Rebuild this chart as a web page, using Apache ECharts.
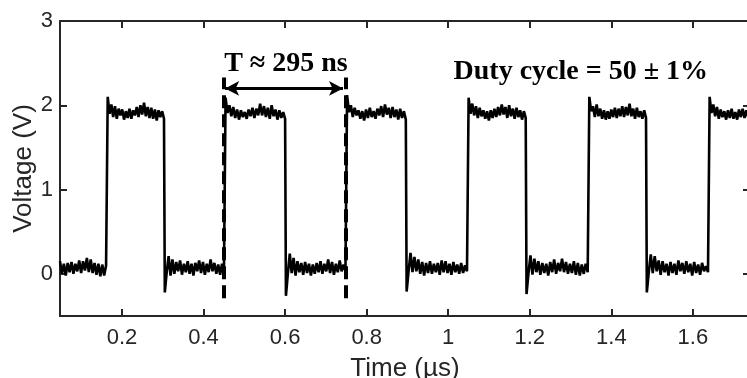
<!DOCTYPE html>
<html>
<head>
<meta charset="utf-8">
<script src="https://cdn.jsdelivr.net/npm/echarts@6/dist/echarts.min.js"></script>
<style>
  html, body { margin: 0; padding: 0; background: #fff; }
  #chart { width: 747px; height: 378px; }
</style>
</head>
<body>
<div id="chart"></div>
<script>
// edge times (µs)
const riseTimes = [0.161, 0.450, 0.748, 1.046, 1.342, 1.637];
const fallTimes = [0.303, 0.600, 0.896, 1.190, 1.485];
const startTime = 0.048;
const endTime = 1.74;

// voltage readings along each plateau (V), evenly sampled
const lowLevels = [
  [0.15, 0.00, 0.12, -0.02, 0.13, 0.02, 0.14, 0.00, 0.12, 0.03, 0.16, 0.01, 0.15, 0.04, 0.19, 0.02, 0.17, 0.01, 0.13, -0.01, 0.12, -0.03, 0.11, -0.02, 0.10],
  [-0.22, 0.02, 0.21, -0.02, 0.17, 0.00, 0.14, 0.03, 0.16, -0.01, 0.12, 0.02, 0.15, 0.00, 0.12, -0.02, 0.13, 0.03, 0.16, 0.01, 0.14, -0.01, 0.12, 0.02, 0.17, 0.03, 0.13, 0.00, 0.11, -0.01, 0.12, 0.02],
  [-0.26, 0.00, 0.24, 0.01, 0.19, -0.02, 0.15, 0.02, 0.13, -0.01, 0.14, 0.01, 0.12, -0.02, 0.11, 0.00, 0.13, 0.02, 0.15, 0.00, 0.12, 0.03, 0.17, 0.01, 0.14, -0.01, 0.12, 0.02, 0.16, 0.03, 0.11, 0.04],
  [-0.21, 0.03, 0.25, 0.02, 0.20, 0.03, 0.17, 0.00, 0.14, -0.02, 0.13, 0.01, 0.15, 0.00, 0.12, 0.02, 0.13, -0.01, 0.16, 0.02, 0.15, 0.01, 0.12, -0.01, 0.14, 0.02, 0.11, 0.00, 0.13, 0.01, 0.10, 0.03],
  [-0.24, 0.01, 0.22, -0.01, 0.18, 0.02, 0.15, -0.01, 0.13, 0.01, 0.12, -0.02, 0.14, 0.02, 0.17, 0.00, 0.13, 0.03, 0.18, 0.02, 0.14, 0.00, 0.12, 0.01, 0.15, -0.01, 0.13, -0.02, 0.11, 0.00, 0.12, 0.02],
  [-0.22, 0.02, 0.23, 0.01, 0.21, 0.03, 0.16, -0.01, 0.15, 0.02, 0.12, -0.02, 0.14, 0.01, 0.12, -0.01, 0.16, 0.03, 0.13, 0.00, 0.15, 0.02, 0.12, -0.02, 0.14, 0.01, 0.11, -0.01, 0.13, 0.03, 0.09, 0.02]
];
const highLevels = [
  [2.10, 1.90, 2.01, 1.86, 1.99, 1.84, 1.96, 1.88, 1.95, 1.83, 1.93, 1.85, 1.96, 1.84, 1.94, 1.88, 1.98, 1.86, 2.00, 1.89, 2.03, 1.87, 1.98, 1.85, 1.97, 1.84, 1.95, 1.82, 1.94, 1.86, 1.93, 1.84],
  [2.09, 1.91, 2.00, 1.87, 1.98, 1.85, 1.95, 1.83, 1.94, 1.86, 1.92, 1.84, 1.95, 1.87, 1.97, 1.85, 1.96, 1.88, 2.02, 1.88, 1.99, 1.86, 1.97, 1.84, 2.00, 1.87, 1.95, 1.83, 1.94, 1.85, 1.92, 1.84],
  [2.12, 1.92, 2.00, 1.86, 1.97, 1.88, 1.94, 1.84, 1.93, 1.82, 1.95, 1.85, 1.97, 1.86, 1.93, 1.84, 1.96, 1.88, 1.99, 1.86, 2.01, 1.89, 1.97, 1.85, 1.98, 1.86, 1.95, 1.83, 1.96, 1.85, 1.93, 1.83],
  [2.09, 1.90, 2.02, 1.88, 1.99, 1.85, 1.97, 1.87, 1.94, 1.84, 1.93, 1.82, 1.94, 1.85, 1.96, 1.86, 1.98, 1.88, 2.01, 1.89, 1.98, 1.85, 2.00, 1.87, 1.96, 1.84, 1.97, 1.86, 1.94, 1.83, 1.93, 1.85],
  [2.10, 1.93, 1.99, 1.86, 2.01, 1.87, 1.96, 1.84, 1.94, 1.83, 1.93, 1.84, 1.95, 1.86, 1.97, 1.85, 1.96, 1.87, 1.99, 1.86, 1.98, 1.88, 2.02, 1.87, 1.96, 1.84, 1.97, 1.86, 1.93, 1.84, 1.94, 1.85],
  [2.10, 1.91, 2.01, 1.87, 1.98, 1.84, 1.95, 1.86, 1.93, 1.83, 1.94, 1.85, 1.96, 1.84, 1.92, 1.83, 1.95, 1.86, 1.96, 1.85, 1.94, 1.86, 1.92]
];

const xTicks = [0.2, 0.4, 0.6, 0.8, 1, 1.2, 1.4, 1.6];
const yTicks = [0, 1, 2, 3];

// period marker and labels, in data units
const periodMarks = [0.449, 0.748];
const markerSpan = [-0.29, 2.33];
const arrowLevel = 2.2;
const periodText = "T \u2248 295 ns";
const periodTextPos = [0.602, 2.49];
const dutyText = "Duty cycle = 50 \u00b1 1%";
const dutyTextPos = [1.325, 2.40];

function plateau(values, t0, t1) {
  const n = values.length;
  return values.map((v, i) => [t0 + (t1 - t0) * i / (n - 1), v]);
}

const trace = [];
for (let i = 0; i < riseTimes.length; i++) {
  const lowStart = i === 0 ? startTime : fallTimes[i - 1] + 0.002;
  trace.push(...plateau(lowLevels[i], lowStart, riseTimes[i]));
  const highEnd = i < fallTimes.length ? fallTimes[i] : endTime;
  trace.push(...plateau(highLevels[i], riseTimes[i] + 0.004, highEnd));
}

const axisColor = "#262626";
const sansFont = "'Liberation Sans', Arial, sans-serif";
const serifFont = "'Liberation Serif', 'Times New Roman', serif";

const chart = echarts.init(document.getElementById("chart"), null, { renderer: "canvas" });

const tickStyle = { inside: true, length: 7, lineStyle: { color: axisColor, width: 2 } };
const lineStyle = { color: axisColor, width: 2 };

chart.setOption({
  animation: false,
  grid: { left: 60, right: -3, top: 21, bottom: 62, outerBoundsMode: "none", containLabel: false },
  xAxis: [
    {
      type: "value",
      min: startTime,
      max: endTime,
      position: "bottom",
      name: "Time (\u00b5s)",
      nameLocation: "middle",
      nameGap: 40,
      nameTextStyle: { color: axisColor, fontSize: 26, fontFamily: sansFont },
      axisLine: { onZero: false, lineStyle },
      axisTick: { ...tickStyle, customValues: xTicks },
      axisLabel: { customValues: xTicks, color: axisColor, fontSize: 22, fontFamily: sansFont, margin: 11 },
      splitLine: { show: false },
    },
    {
      type: "value",
      min: startTime,
      max: endTime,
      position: "top",
      axisLine: { onZero: false, lineStyle },
      axisTick: { ...tickStyle, customValues: xTicks },
      axisLabel: { show: false },
      splitLine: { show: false },
    },
  ],
  yAxis: [
    {
      type: "value",
      min: -0.5,
      max: 3,
      position: "left",
      name: "Voltage (V)",
      nameLocation: "middle",
      nameRotate: 90,
      nameGap: 23,
      nameMoveOverlap: false,
      nameTextStyle: { color: axisColor, fontSize: 26, fontFamily: sansFont },
      axisLine: { onZero: false, lineStyle },
      axisTick: { ...tickStyle, customValues: yTicks },
      axisLabel: { customValues: yTicks, color: axisColor, fontSize: 22, fontFamily: sansFont, margin: 7 },
      splitLine: { show: false },
    },
    {
      type: "value",
      min: -0.5,
      max: 3,
      position: "right",
      axisLine: { onZero: false, lineStyle },
      axisTick: { ...tickStyle, customValues: yTicks },
      axisLabel: { show: false },
      splitLine: { show: false },
    },
  ],
  series: [
    {
      name: "Voltage",
      type: "line",
      data: trace,
      showSymbol: false,
      lineStyle: { color: "#000", width: 2.6 },
      z: 3,
    },
    {
      name: "period",
      type: "line",
      data: [],
      markLine: {
        silent: true,
        symbol: "none",
        label: { show: false },
        lineStyle: { color: "#000", width: 4, type: [13, 6] },
        data: periodMarks.map((x) => [{ coord: [x, markerSpan[0]] }, { coord: [x, markerSpan[1]] }]),
      },
      z: 4,
    },
    {
      name: "arrow",
      type: "line",
      data: [],
      markLine: {
        silent: true,
        symbol: ["arrow", "arrow"],
        symbolSize: [11, 14],
        label: { show: false },
        lineStyle: { color: "#000", width: 3, type: "solid" },
        data: [[{ coord: [periodMarks[0] + 0.004, arrowLevel] }, { coord: [periodMarks[1] - 0.006, arrowLevel] }]],
      },
      z: 4,
    },
  ],
});

// annotation text, centred on its position
const p1 = chart.convertToPixel({ gridIndex: 0 }, periodTextPos);
const p2 = chart.convertToPixel({ gridIndex: 0 }, dutyTextPos);
chart.setOption({
  graphic: [
    {
      type: "text",
      x: p1[0],
      y: p1[1],
      style: { text: periodText, fill: "#000", font: "bold 28px " + serifFont, align: "center", verticalAlign: "middle" },
      z: 10,
    },
    {
      type: "text",
      x: p2[0],
      y: p2[1],
      style: { text: dutyText, fill: "#000", font: "bold 28px " + serifFont, align: "center", verticalAlign: "middle" },
      z: 10,
    },
  ],
});

window.addEventListener("resize", () => chart.resize());
</script>
</body>
</html>
